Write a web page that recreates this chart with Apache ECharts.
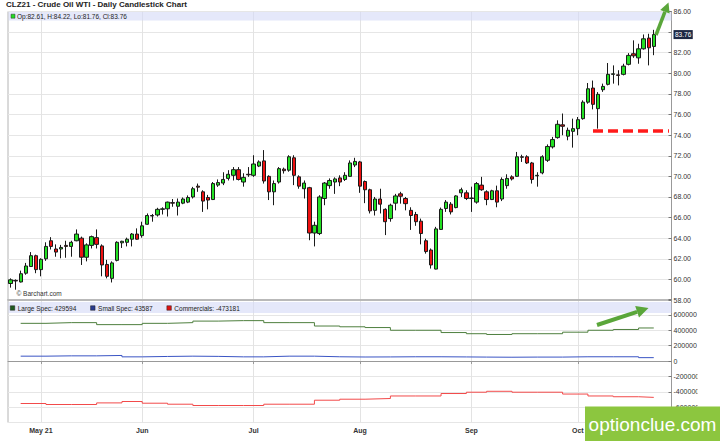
<!DOCTYPE html>
<html><head><meta charset="utf-8">
<script src="https://cdn.jsdelivr.net/npm/echarts@6/dist/echarts.min.js"></script>
<style>html,body{margin:0;padding:0;background:#fff}#c{width:720px;height:441px}</style>
</head><body><div id="c"></div>
<script>
const chartTitle = 'CLZ21 - Crude Oil WTI - Daily Candlestick Chart';
const tradingDays = {
  '2021-04': [23,26,27,28,29,30],
  '2021-05': [3,4,5,6,7,10,11,12,13,14,17,18,19,20,21,24,25,26,27,28],
  '2021-06': [1,2,3,4,7,8,9,10,11,14,15,16,17,18,21,22,23,24,25,28,29,30],
  '2021-07': [1,2,6,7,8,9,12,13,14,15,16,19,20,21,22,23,26,27,28,29,30],
  '2021-08': [2,3,4,5,6,9,10,11,12,13,16,17,18,19,20,23,24,25,26,27,30,31],
  '2021-09': [1,2,3,7,8,9,10,13,14,15,16,17,20,21,22,23,24,27,28,29,30],
  '2021-10': [1,4,5,6,7,8,11,12,13,14,15,18,19,20,21,22]
};
const padDays = ['2021-10-25','2021-10-26','2021-10-27'];
const monthKeys = ['2021-05','2021-06','2021-07','2021-08','2021-09','2021-10'];
const monthLabels = ['May 21','Jun','Jul','Aug','Sep','Oct'];

const openP = [59.60,59.90,59.75,60.60,61.25,62.30,60.95,62.00,63.75,62.95,62.95,63.30,63.20,63.75,64.00,62.15,63.30,64.05,63.25,61.45,
 60.10,61.85,63.55,63.60,63.90,64.40,64.25,65.35,66.15,66.25,66.80,66.85,67.45,67.10,67.40,67.50,68.00,69.05,68.50,67.95,
 67.75,69.15,69.35,69.80,70.10,70.65,69.45,70.20,70.10,71.00,71.50,70.00,68.50,69.45,70.70,70.60,71.80,69.95,68.80,68.90,
 64.50,64.45,67.85,69.10,69.45,69.85,69.70,70.00,71.10,71.40,69.50,68.70,66.70,67.80,66.80,65.90,67.40,68.30,67.85,66.70,
 66.30,65.65,63.75,62.85,61.00,64.85,66.88,67.30,66.97,68.40,68.40,67.85,67.50,69.15,68.50,67.75,68.60,67.80,69.10,69.95,
 70.00,71.90,71.90,71.30,70.05,70.34,71.56,72.86,73.76,75.00,73.90,74.37,74.63,75.60,77.20,78.57,76.57,78.41,78.93,79.90,
 79.85,79.90,80.87,81.90,81.50,82.38,83.42,82.61];
const highP = [60.10,60.00,60.85,61.60,62.65,62.40,62.05,63.60,64.10,63.40,63.35,63.75,63.75,64.85,64.15,63.50,64.25,64.85,63.40,61.90,
 61.75,63.70,63.75,64.05,64.50,64.95,65.60,66.40,66.35,66.95,67.00,67.55,67.80,67.85,67.95,68.15,68.98,69.30,68.65,68.20,
 69.45,69.70,70.40,70.60,70.90,70.90,70.30,70.90,72.05,71.55,72.55,70.10,69.60,70.90,70.85,72.05,72.05,70.10,69.60,68.98,
 65.60,68.17,69.45,69.80,69.90,70.10,70.40,71.55,71.80,71.50,69.60,68.80,68.00,68.80,66.90,67.35,68.30,68.50,68.00,67.00,
 66.55,65.90,63.95,63.00,65.10,66.97,67.70,67.50,68.17,68.90,68.65,69.00,69.45,69.95,68.65,68.70,69.10,69.90,70.20,70.10,
 72.37,72.10,72.05,71.40,70.40,72.05,73.10,73.83,75.44,76.10,74.73,75.60,75.76,77.38,79.06,79.30,78.18,79.00,81.00,80.77,
 80.30,80.93,81.96,83.20,82.87,83.77,83.84,84.22];
const lowP = [59.20,59.00,59.70,60.45,61.20,60.60,60.30,61.80,62.90,62.20,62.05,62.10,62.20,63.70,61.40,61.75,63.00,63.00,60.30,60.10,
 59.70,61.75,63.05,63.20,63.20,63.85,64.05,65.30,65.60,66.10,66.30,66.10,67.05,66.20,67.30,67.40,67.85,68.50,66.55,66.80,
 67.70,68.98,69.15,69.60,69.60,69.60,69.00,69.95,69.95,70.90,69.30,67.70,67.20,69.30,70.27,70.45,69.15,68.80,67.85,63.80,
 63.20,64.30,67.20,68.80,68.30,69.05,69.55,69.95,70.90,68.40,67.40,66.40,66.20,66.40,64.30,65.60,66.70,67.35,66.70,64.80,
 65.20,63.40,62.50,61.05,60.97,64.80,66.55,66.30,66.90,68.00,67.70,66.55,67.35,68.60,67.20,67.70,67.00,67.60,68.80,69.60,
 69.95,71.40,71.20,69.30,69.00,70.20,71.40,72.70,73.66,73.99,73.50,72.79,73.99,75.50,77.05,76.50,74.63,78.20,78.83,79.00,
 78.83,79.80,80.77,81.50,80.93,82.30,80.77,81.76];
const closeP = [59.96,59.85,60.55,61.30,62.30,60.95,61.95,63.20,63.20,62.65,63.10,63.20,63.60,64.40,62.15,63.35,64.15,63.40,61.40,60.30,
 61.60,63.60,63.70,63.90,64.40,63.90,65.20,66.20,66.20,66.80,66.85,67.50,67.40,67.50,67.80,67.95,68.80,68.95,67.60,67.70,
 69.30,69.40,69.70,70.20,70.65,69.70,69.90,70.15,71.20,71.40,69.55,68.50,69.30,70.75,70.55,71.90,70.10,69.05,69.35,64.50,
 65.25,68.00,69.35,69.60,69.75,69.45,70.10,71.30,71.45,69.05,68.70,66.65,67.80,67.30,65.60,67.20,68.10,68.07,67.35,66.20,
 65.60,64.45,62.70,61.40,64.90,66.80,67.50,66.55,68.10,68.70,67.85,67.90,69.30,68.70,67.75,68.60,67.50,69.70,69.80,69.75,
 71.90,71.85,71.30,69.70,70.10,71.90,72.90,73.57,75.05,74.86,74.47,74.63,75.50,77.20,78.50,76.99,77.96,78.73,79.90,79.95,
 79.80,80.70,81.74,81.70,82.38,83.35,82.48,83.76];

const priceMin = 58, priceMax = 86, priceStep = 2;
const supportLevel = 74.4;
const supportStart = '2021-10-06';

const cotDates = ['2021-04-27','2021-05-04','2021-05-11','2021-05-18','2021-05-25','2021-06-01','2021-06-08','2021-06-15','2021-06-22','2021-06-29',
 '2021-07-06','2021-07-13','2021-07-20','2021-07-27','2021-08-03','2021-08-10','2021-08-17','2021-08-24','2021-08-31','2021-09-07',
 '2021-09-14','2021-09-21','2021-09-28','2021-10-05','2021-10-12','2021-10-19','2021-10-22'];
const largeSpec = [490000,499000,499000,473000,473000,490000,499000,519000,525000,525000,
 499000,499000,455000,445000,435000,400000,400000,370000,355000,345000,
 355000,355000,375000,400000,410000,429594,429594];
const smallSpec = [63000,67000,67000,72000,54000,59000,63000,60000,54000,54000,
 63000,63000,55000,52000,53000,55000,55000,53000,51000,49000,
 51000,51000,55000,55000,55000,43587,43587];
const commercials = [-553000,-566000,-566000,-545000,-527000,-549000,-562000,-579000,-579000,-579000,
 -562000,-562000,-510000,-497000,-488000,-455000,-455000,-423000,-406000,-394000,
 -406000,-406000,-430000,-455000,-465000,-473181,-473181];
const cotMin = -800000, cotMax = 800000, cotStep = 200000;

// ---- build ----
const FONT = "'Liberation Sans', Arial, sans-serif";
const dates = [];
Object.keys(tradingDays).forEach(m => tradingDays[m].forEach(d => dates.push(m + '-' + String(d).padStart(2, '0'))));
const categories = dates.concat(padDays);
const monthStartIdx = monthKeys.map(k => categories.findIndex(c => c.startsWith(k)));
const monthLabelByIdx = {};
monthStartIdx.forEach((idx, j) => monthLabelByIdx[idx] = monthLabels[j]);
const isMonthStart = (i) => monthLabelByIdx[i] !== undefined;
const last = dates.length - 1;
const fmt2 = v => v.toFixed(2);

const nameLarge = 'Large Spec: ' + largeSpec[largeSpec.length - 1];
const nameSmall = 'Small Spec: ' + smallSpec[smallSpec.length - 1];
const nameComm = 'Commercials: ' + commercials[commercials.length - 1];

const chart = echarts.init(document.getElementById('c'), null, {renderer: 'svg'});
const bandFill = 'rgba(212,216,246,0.6)';
const arrowColor = '#5aa63a';

const option = {
  animation: false,
  backgroundColor: '#fff',
  textStyle: {fontFamily: FONT},
  title: {text: chartTitle, left: 6, top: 0.5, padding: 0,
    textStyle: {fontSize: 8, fontWeight: 'bold', color: '#222', fontFamily: FONT}},
  legend: {
    left: 10, top: 304.5, padding: 0, itemWidth: 4.5, itemHeight: 4.5, itemGap: 14, icon: 'rect',
    selectedMode: false,
    textStyle: {fontSize: 6.5, color: '#222', fontFamily: FONT, padding: [0,0,0,-2]},
    data: [
      {name: nameLarge, itemStyle: {color: '#1f5a1f', borderColor: '#222', borderWidth: 0.5}},
      {name: nameSmall, itemStyle: {color: '#2a3b8f', borderColor: '#222', borderWidth: 0.5}},
      {name: nameComm, itemStyle: {color: '#e01010', borderColor: '#222', borderWidth: 0.5}}
    ]
  },
  grid: [
    {left: 8, right: 48.5, top: 11.5, height: 288.5, show: true, borderColor: '#b4b4b4', borderWidth: 1},
    {left: 8, right: 48.5, top: 299.5, height: 123, show: true, borderColor: '#b4b4b4', borderWidth: 1}
  ],
  xAxis: [
    {type: 'category', gridIndex: 0, data: categories, boundaryGap: true,
      axisLine: {show: true, lineStyle: {color: '#aaa', width: 1.5}},
      axisTick: {show: false}, axisLabel: {show: false},
      splitLine: {show: true, interval: (i) => isMonthStart(i), alignWithLabel: true, lineStyle: {color: '#e3e3e3', width: 1}}},
    {type: 'category', gridIndex: 1, data: categories, boundaryGap: true,
      axisLine: {show: true, lineStyle: {color: '#999', width: 1}},
      axisTick: {show: true, interval: (i) => isMonthStart(i), alignWithLabel: true, length: 3, lineStyle: {color: '#999'}},
      axisLabel: {show: true, interval: (i) => isMonthStart(i), formatter: (v, i) => monthLabelByIdx[i] || '',
        fontSize: 7, fontWeight: 'bold', color: '#333', margin: 4, fontFamily: FONT},
      splitLine: {show: true, interval: (i) => isMonthStart(i), alignWithLabel: true, lineStyle: {color: '#e3e3e3', width: 1}}}
  ],
  yAxis: [
    {type: 'value', gridIndex: 0, position: 'right', min: priceMin, max: priceMax, interval: priceStep, scale: true,
      axisLine: {show: true, lineStyle: {color: '#999'}},
      axisTick: {show: true, inside: true, length: 3, lineStyle: {color: '#777'}},
      axisLabel: {fontSize: 7, color: '#333', margin: 2, fontFamily: FONT,
        formatter: v => Math.abs(v - closeP[last]) < 1 ? '' : fmt2(v)},
      splitLine: {show: true, lineStyle: {color: '#e6e6e6'}}},
    {type: 'value', gridIndex: 1, position: 'right', min: cotMin, max: cotMax, interval: cotStep,
      axisLine: {show: true, lineStyle: {color: '#999'}},
      axisTick: {show: true, inside: true, length: 3, lineStyle: {color: '#777'}},
      axisLabel: {fontSize: 7, color: '#333', margin: 2, fontFamily: FONT,
        formatter: v => (v === cotMin || v === cotMax) ? '' : String(v)},
      splitLine: {show: true, lineStyle: {color: '#e6e6e6'}}}
  ],
  series: [
    {type: 'candlestick', name: 'CLZ21', xAxisIndex: 0, yAxisIndex: 0, barWidth: 3.8,
      data: dates.map((d, i) => [openP[i], closeP[i], lowP[i], highP[i]]),
      itemStyle: {color: '#22e022', color0: '#ee1111', borderColor: '#1a1a1a', borderColor0: '#1a1a1a', borderWidth: 1},
      markLine: {
        symbol: ['none', 'none'], silent: true, animation: false,
        data: [
          {yAxis: closeP[last], lineStyle: {width: 0, color: 'rgba(0,0,0,0)', opacity: 1},
            label: {show: true, position: 'end', distance: 2, formatter: p => fmt2(p.value), opacity: 1,
              backgroundColor: '#1c2844', color: '#ffffff', fontSize: 6.5, padding: [1, 1.5], fontFamily: FONT}},
          [{coord: [supportStart, supportLevel],
            lineStyle: {color: '#ff1a1a', width: 3.5, type: [10, 5], opacity: 1}, label: {show: false}},
           {coord: [categories[categories.length - 1], supportLevel]}]
        ]
      }},
    {type: 'line', name: nameLarge, xAxisIndex: 1, yAxisIndex: 1, step: 'end', showSymbol: false,
      data: cotDates.map((d, i) => [d, largeSpec[i]]), lineStyle: {color: '#4e7f3e', width: 1}, itemStyle: {color: '#1f5a1f'}},
    {type: 'line', name: nameSmall, xAxisIndex: 1, yAxisIndex: 1, step: 'end', showSymbol: false,
      data: cotDates.map((d, i) => [d, smallSpec[i]]), lineStyle: {color: '#3a54c4', width: 1}, itemStyle: {color: '#2a3b8f'}},
    {type: 'line', name: nameComm, xAxisIndex: 1, yAxisIndex: 1, step: 'end', showSymbol: false,
      data: cotDates.map((d, i) => [d, commercials[i]]), lineStyle: {color: '#f24a4a', width: 1}, itemStyle: {color: '#e01010'}}
  ],
  graphic: [
    {type: 'rect', silent: true, z: 1, shape: {x: 8.5, y: 12, width: 663, height: 8.5}, style: {fill: bandFill}},
    {type: 'rect', silent: true, z: 5, shape: {x: 11, y: 14.2, width: 4, height: 4}, style: {fill: '#22dd22', stroke: '#333', lineWidth: 0.5}},
    {type: 'text', silent: true, z: 5, x: 17, y: 16.3,
      style: {text: 'Op:' + fmt2(openP[last]) + ', H:' + fmt2(highP[last]) + ', Lo:' + fmt2(lowP[last]) + ', Cl:' + fmt2(closeP[last]),
        fontSize: 6.5, fill: '#222', fontFamily: FONT, verticalAlign: 'middle', align: 'left'}},
    {type: 'rect', silent: true, z: 1, shape: {x: 8.5, y: 302, width: 663, height: 11}, style: {fill: bandFill}},
    {type: 'text', silent: true, z: 5, x: 16.5, y: 293,
      style: {text: '\u00a9 Barchart.com', fontSize: 6.5, fill: '#333', fontFamily: FONT, verticalAlign: 'middle', align: 'left'}},
    {type: 'polyline', silent: true, z: 20, shape: {points: [[656, 35], [664.9, 11.8]]}, style: {stroke: arrowColor, lineWidth: 3.5, fill: 'none'}},
    {type: 'polygon', silent: true, z: 20, shape: {points: [[668.5, 2.5], [660.2, 10.0], [669.6, 13.6]]}, style: {fill: arrowColor}},
    {type: 'polyline', silent: true, z: 20, shape: {points: [[597, 325], [637.1, 311.8]]}, style: {stroke: arrowColor, lineWidth: 4, fill: 'none'}},
    {type: 'polygon', silent: true, z: 20, shape: {points: [[648.5, 308], [635.2, 306.1], [639.0, 317.5]]}, style: {fill: arrowColor}},
    {type: 'rect', silent: true, z: 30, shape: {x: 697.5, y: 309, width: 23, height: 98}, style: {fill: '#fff'}},
    {type: 'rect', silent: true, z: 40, shape: {x: 585, y: 406.5, width: 135, height: 34.5}, style: {fill: '#8cc63f'}},
    {type: 'text', silent: true, z: 41, x: 652.5, y: 424,
      style: {text: 'optionclue.com', fontSize: 19, fill: '#fff', fontFamily: FONT, align: 'center', verticalAlign: 'middle'}}
  ]
};
chart.setOption(option);
</script>
</body></html>
